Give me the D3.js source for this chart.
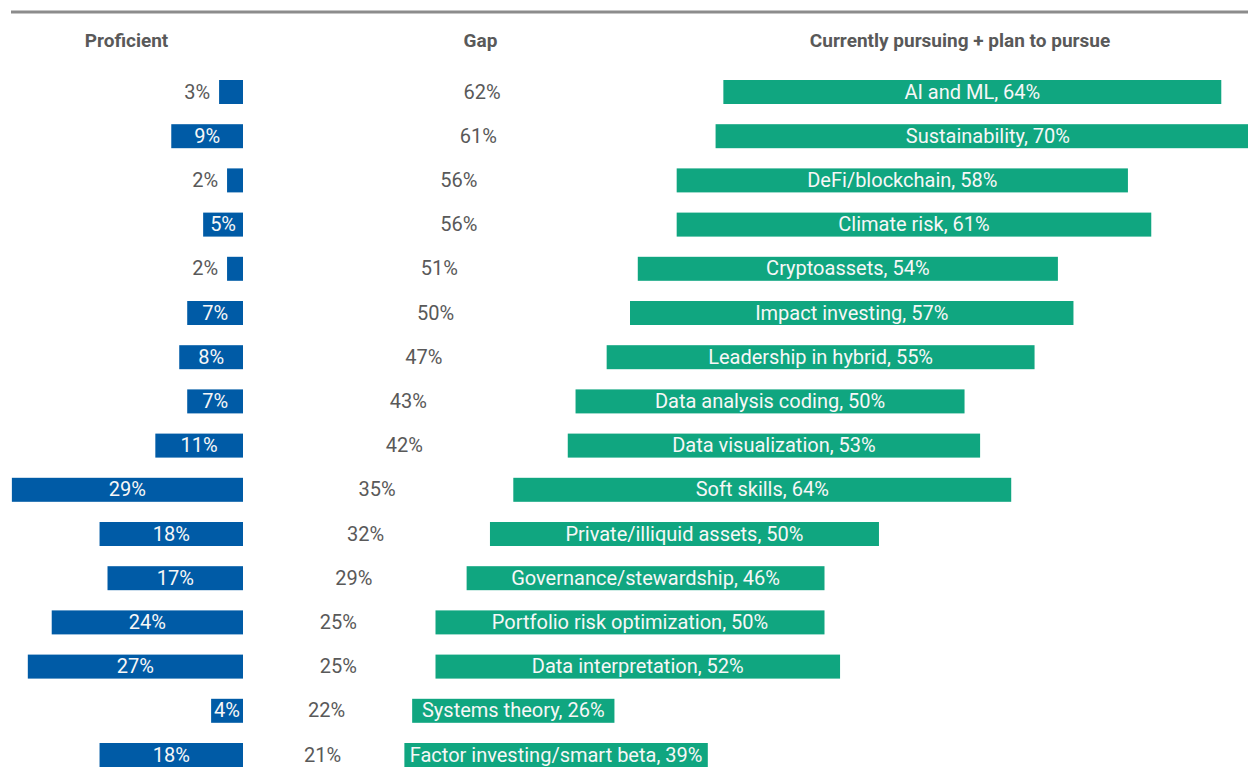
<!DOCTYPE html>
<html>
<head>
<meta charset="utf-8">
<script src="https://cdn.jsdelivr.net/npm/d3@7"></script>
<style>
  body { margin: 0; background: #fff; }
  svg { display: block; font-family: Roboto, "Noto Sans", sans-serif; }
</style>
</head>
<body>
<div id="chart"></div>
<script>
// Data
const skills = [
  "AI and ML", "Sustainability", "DeFi/blockchain", "Climate risk",
  "Cryptoassets", "Impact investing", "Leadership in hybrid",
  "Data analysis coding", "Data visualization", "Soft skills",
  "Private/illiquid assets", "Governance/stewardship",
  "Portfolio risk optimization", "Data interpretation",
  "Systems theory", "Factor investing/smart beta"
];
const proficient = [3, 9, 2, 5, 2, 7, 8, 7, 11, 29, 18, 17, 24, 27, 4, 18];
const gap = [62, 61, 56, 56, 51, 50, 47, 43, 42, 35, 32, 29, 25, 25, 22, 21];
const pursue = [64, 70, 58, 61, 54, 57, 55, 50, 53, 64, 50, 46, 50, 52, 26, 39];
const headers = ["Proficient", "Gap", "Currently pursuing + plan to pursue"];

const data = skills.map((s, i) => ({
  skill: s, prof: proficient[i], gap: gap[i], pursue: pursue[i]
}));

// Dimensions
const dimensions = { width: 1248, height: 776 };
const colors = { blue: "#005ba6", green: "#10a680", text: "#595959", rule: "#8c8c8c" };
const labelSize = 20;

const svg = d3.select("#chart")
  .append("svg")
  .attr("width", dimensions.width)
  .attr("height", dimensions.height);

// Scales
const yScale = d3.scaleBand()
  .domain(skills)
  .range([69.9, 69.9 + 16 * 44.2])
  .paddingInner(0.457)
  .paddingOuter(0.2285);

const profScale = d3.scaleLinear().domain([0, 100]).range([243, 243 - 797]);
const pursueScale = d3.scaleLinear().domain([0, 100]).range([241, 241 + 778]);

// top rule
svg.append("line")
  .attr("x1", 11).attr("x2", dimensions.width)
  .attr("y1", 12).attr("y2", 12)
  .attr("stroke", colors.rule)
  .attr("stroke-width", 3);

// headers
const headerX = [126.5, 480.5, 960];
svg.append("g")
  .selectAll("text")
  .data(headers)
  .join("text")
  .attr("x", (d, i) => headerX[i])
  .attr("y", 47)
  .attr("text-anchor", "middle")
  .attr("font-weight", 700)
  .attr("font-size", 19)
  .attr("fill", colors.text)
  .text((d) => d);

const fmt = (v) => v + "%";
const midY = (d) => yScale(d.skill) + yScale.bandwidth() / 2;

// Proficient bars
const left = svg.append("g");
left.selectAll("rect")
  .data(data)
  .join("rect")
  .attr("x", (d) => profScale(d.prof))
  .attr("y", (d) => yScale(d.skill))
  .attr("width", (d) => profScale(0) - profScale(d.prof))
  .attr("height", yScale.bandwidth())
  .attr("fill", colors.blue);

left.selectAll("text")
  .data(data)
  .join("text")
  .attr("x", (d) => d.prof >= 4
    ? (profScale(0) + profScale(d.prof)) / 2
    : profScale(d.prof) - 9)
  .attr("y", midY)
  .attr("dy", "0.33em")
  .attr("text-anchor", (d) => d.prof >= 4 ? "middle" : "end")
  .attr("font-size", labelSize)
  .attr("fill", (d) => d.prof >= 4 ? "#f7f7f7" : colors.text)
  .text((d) => fmt(d.prof));

// Gap labels
svg.append("g")
  .selectAll("text")
  .data(data)
  .join("text")
  .attr("x", (d) => (pursueScale(0) + pursueScale(d.gap)) / 2)
  .attr("y", midY)
  .attr("dy", "0.33em")
  .attr("text-anchor", "middle")
  .attr("font-size", labelSize)
  .attr("fill", colors.text)
  .text((d) => fmt(d.gap));

// Pursue bars, shifted right by the gap
const right = svg.append("g");
right.selectAll("rect")
  .data(data)
  .join("rect")
  .attr("x", (d) => pursueScale(d.gap))
  .attr("y", (d) => yScale(d.skill))
  .attr("width", (d) => pursueScale(d.pursue) - pursueScale(0))
  .attr("height", yScale.bandwidth())
  .attr("fill", colors.green);

right.selectAll("text")
  .data(data)
  .join("text")
  .attr("x", (d) => pursueScale(d.gap) + (pursueScale(d.pursue) - pursueScale(0)) / 2)
  .attr("y", midY)
  .attr("dy", "0.33em")
  .attr("text-anchor", "middle")
  .attr("font-size", labelSize)
  .attr("fill", "#f7f7f7")
  .text((d) => `${d.skill}, ${fmt(d.pursue)}`);
</script>
</body>
</html>
